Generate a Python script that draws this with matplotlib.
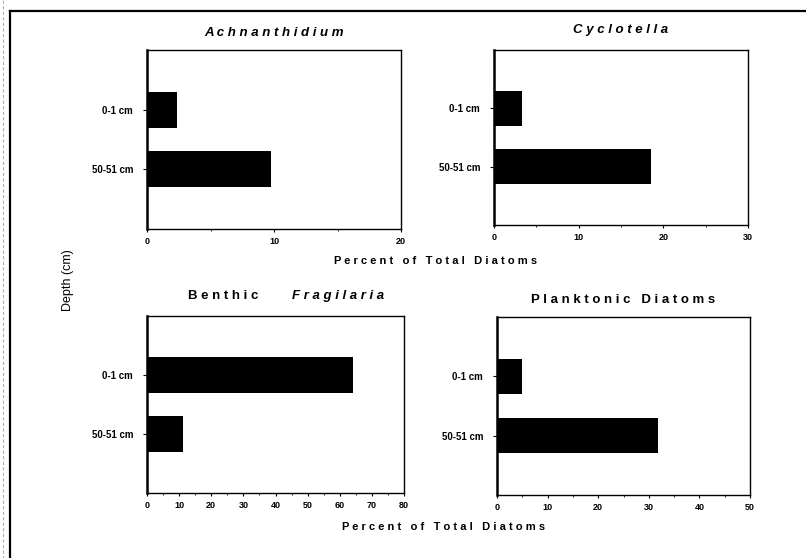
import matplotlib
matplotlib.use("Agg")
import matplotlib.pyplot as plt
from matplotlib.lines import Line2D
from matplotlib.ticker import MultipleLocator

plt.rcParams['font.family'] = ['Liberation Sans', 'DejaVu Sans']

# percent of total diatoms per depth interval
depths = ["0-1 cm", "50-51 cm"]
achnanthidium = [2.4, 9.8]
cyclotella = [3.3, 18.5]
benthic_fragilaria = [64.2, 11.1]
planktonic = [4.9, 31.8]

xmax = [20, 30, 80, 50]
xstep = [10, 10, 10, 10]

W, H = 806, 558


def spaced(s):
    # old plotting package spread the letters out
    return "   ".join(" ".join(w) for w in s.split(" "))


def box(l, t, r, b):
    return [l / W, 1 - b / H, (r - l) / W, (b - t) / H]


fig = plt.figure(figsize=(W / 100, H / 100), dpi=100)

axes = [
    fig.add_axes(box(147, 50, 401, 229)),
    fig.add_axes(box(494, 50, 748, 225)),
    fig.add_axes(box(147, 316, 404, 493)),
    fig.add_axes(box(497, 317, 750, 495)),
]
series = [achnanthidium, cyclotella, benthic_fragilaria, planktonic]

for ax, vals, xm, xs in zip(axes, series, xmax, xstep):
    ypos = list(range(len(depths)))
    ax.barh(ypos, vals, height=0.6, color="black")
    ax.set_xlim(0, xm)
    ax.set_ylim(2.0, -1.0)
    ax.set_yticks(ypos)
    ax.set_yticklabels(depths, fontsize=7, fontweight="bold")
    ax.xaxis.set_major_locator(MultipleLocator(xs))
    ax.xaxis.set_minor_locator(MultipleLocator(xs / 2))
    for lab in ax.get_xticklabels():
        lab.set_fontsize(6.5)
        lab.set_fontweight("bold")
    ax.tick_params(axis="y", direction="out", length=3, width=0.8, pad=7)
    ax.tick_params(axis="x", which="major", direction="out", length=2.5, width=0.8, pad=3)
    ax.tick_params(axis="x", which="minor", direction="out", length=1.5, width=0.6)
    for side in ["top", "right", "bottom"]:
        ax.spines[side].set_linewidth(1.0)
    ax.spines["left"].set_linewidth(1.8)

title_kw = dict(fontsize=9.5, fontweight="bold")
axes[0].set_title(spaced("Achnanthidium"), style="italic", pad=10, **title_kw)
axes[1].set_title(spaced("Cyclotella"), style="italic", pad=12, **title_kw)
axes[3].set_title(spaced("Planktonic Diatoms"), pad=10, **title_kw)
# mixed upright / italic title
axes[2].annotate(spaced("Benthic"), xy=(0.5, 1.0), xycoords="axes fraction",
                 xytext=(-12, 10), textcoords="offset points",
                 ha="right", va="bottom", **title_kw)
axes[2].annotate(spaced("Fragilaria"), xy=(0.5, 1.0), xycoords="axes fraction",
                 xytext=(12, 10), textcoords="offset points",
                 ha="left", va="bottom", style="italic", **title_kw)

xlab = spaced("Percent of Total Diatoms")
fig.text(436 / W, 1 - 261 / H, xlab, ha="center", va="center",
         fontsize=8, fontweight="bold")
fig.text(444 / W, 1 - 527 / H, xlab, ha="center", va="center",
         fontsize=8, fontweight="bold")
fig.text(68 / W, 1 - 280 / H, "Depth (cm)", rotation=90, ha="center",
         va="center", fontsize=9)

# page frame (top and left edges only)
fig.add_artist(Line2D([10 / W, 1.0], [1 - 11 / H, 1 - 11 / H],
                      transform=fig.transFigure, color="black", lw=1.6))
fig.add_artist(Line2D([10 / W, 10 / W], [1 - 11 / H, 0.0],
                      transform=fig.transFigure, color="black", lw=1.6))
fig.add_artist(Line2D([3 / W, 3 / W], [1.0, 0.0], transform=fig.transFigure,
                      color="#b0b0b0", lw=0.8, ls=(0, (3, 2))))

fig.savefig("out.png", dpi=100)
